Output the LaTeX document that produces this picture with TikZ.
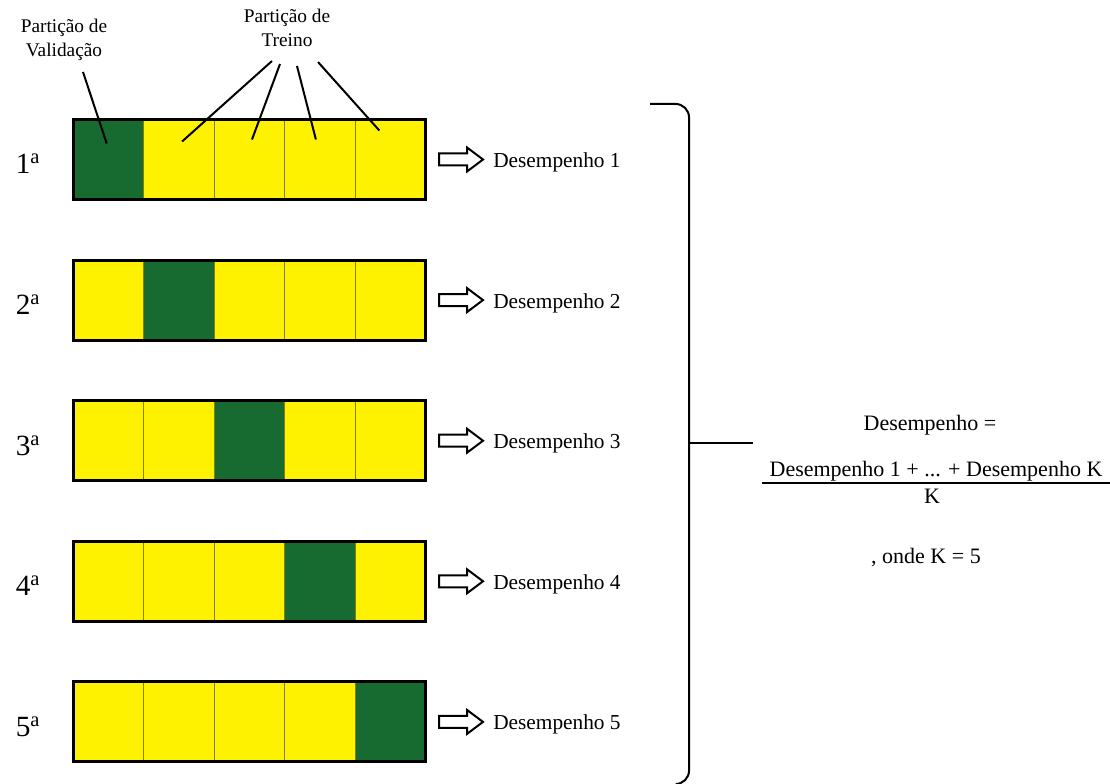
\documentclass[tikz,border=0pt]{standalone}
\usepackage{fontspec}
\setmainfont{Liberation Serif}
\definecolor{trainfill}{HTML}{FFF200}
\definecolor{validfill}{HTML}{176B30}
\definecolor{sepcol}{HTML}{858000}
\begin{document}
\begin{tikzpicture}[x=0.75pt,y=-0.75pt,
  cell/.style={draw=sepcol, line width=0.75pt, minimum width=52.8pt,
    minimum height=60pt, inner sep=0pt, outer sep=0pt},
  frame/.style={draw=black, line width=2.25pt},
  rowlbl/.style={font=\fontsize{22}{24}\selectfont, inner sep=0pt, anchor=base},
  perf/.style={font=\fontsize{16}{19}\selectfont, inner sep=0pt, anchor=base west},
  note/.style={font=\fontsize{14.5}{18}\selectfont, inner sep=0pt, anchor=base, align=center},
  eqtxt/.style={font=\fontsize{16.5}{19}\selectfont, inner sep=0pt, anchor=base},
  pointer/.style={draw=black, line width=1.5pt},
  hollow/.style={draw=black, line width=1.5pt, fill=white, line join=miter},
  brace/.style={draw=black, line width=1.5pt, rounded corners=10pt}]
\useasboundingbox (0,0) rectangle (1110,784);

% five folds: one validation partition per row
\foreach \r in {1,...,5} {
  \pgfmathsetmacro\cy{159.5+(\r-1)*140.6}
  \foreach \i in {1,...,5} {
    \edef\cellcol{\ifnum\i=\r validfill\else trainfill\fi}
    \node[cell, fill=\cellcol] (c-\r-\i) at ({73.5+(\i-0.5)*70.4},\cy) {};
  }
  \draw[frame] (c-\r-1.north west) rectangle (c-\r-5.south east);
  \node[rowlbl] (n-\r) at (28,\cy+14.5) {\r\textsuperscript{a}};
  % hollow block arrow towards the score
  \coordinate (a-\r) at (439,\cy);
  \draw[hollow] (a-\r) ++(0,-6) -- ++(28,0) -- ++(0,-6) -- ++(16,12)
    -- ++(-16,12) -- ++(0,-6) -- ++(-28,0) -- cycle;
  \node[perf] (d-\r) at (493,\cy+8) {Desempenho \r};
}

% callouts (base anchor sits on the last line)
\node[note] (lv) at (64,57) {Partição de\\Validação};
\node[note] (lt) at (287,47) {Partição de\\Treino};
\coordinate (pv) at (83,72);
\coordinate (pt1) at (272,61);
\coordinate (pt2) at (280,64);
\coordinate (pt3) at (297,66);
\coordinate (pt4) at (318,62);
\draw[pointer] (pv) -- ([shift={(-2,-16)}]c-1-1.center);
\draw[pointer] (pt1) -- ([shift={(3,-18)}]c-1-2.center);
\draw[pointer] (pt2) -- ([shift={(2.5,-20)}]c-1-3.center);
\draw[pointer] (pt3) -- ([shift={(-4,-20)}]c-1-4.center);
\draw[pointer] (pt4) -- ([shift={(-11,-29)}]c-1-5.center);

% brace gathering the five scores
\coordinate (bt) at (650,104);
\coordinate (bb) at (680,784);
\coordinate (bm) at (689,443);
\coordinate (bx) at (753,443);
\draw[brace] (bt) -- (689,104) -- (689,784) -- (bb);
\draw[black, line width=1.5pt] (bm) -- (bx);

% mean score
\node[eqtxt] (eq) at (930,430) {Desempenho =};
\node[eqtxt] (num) at (936,476) {Desempenho 1 + ... + Desempenho K};
\node[eqtxt] (den) at (932,503) {K};
\coordinate (fl) at (762,483);
\coordinate (fr) at (1110,483);
\draw[black, line width=1.5pt] (fl) -- (fr);
\node[eqtxt] (onde) at (926,563) {, onde K = 5};
\end{tikzpicture}
\end{document}
